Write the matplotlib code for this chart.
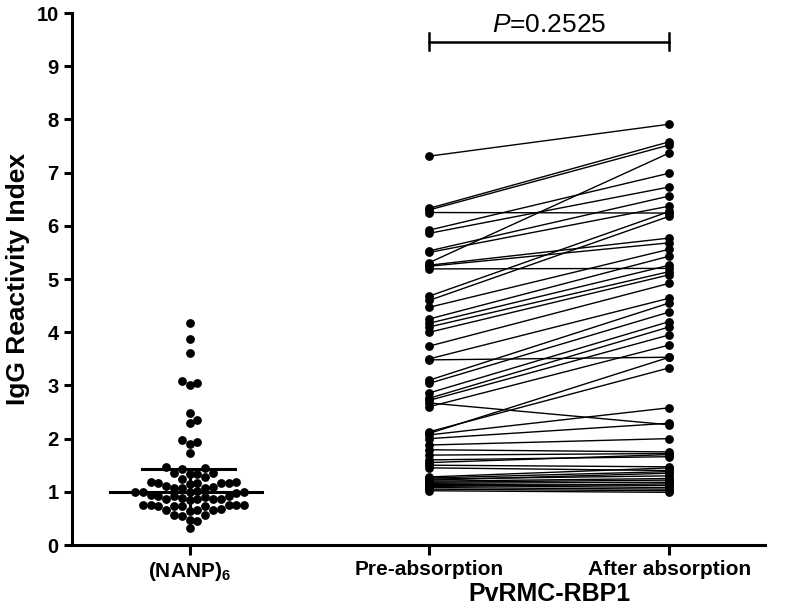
import numpy as np
import matplotlib.pyplot as plt

plt.rcParams['font.family'] = ['Liberation Sans', 'DejaVu Sans']
plt.rcParams['mathtext.fontset'] = 'custom'
plt.rcParams['mathtext.bf'] = 'Liberation Sans:bold'
plt.rcParams['mathtext.it'] = 'Liberation Sans:italic'
plt.rcParams['mathtext.rm'] = 'Liberation Sans'

# (NANP)6 reactivity index, one value per serum
nanp = [4.17, 3.87, 3.61, 3.09, 3.05, 3.01, 2.48, 2.35, 2.29, 1.97, 1.93, 1.90, 1.73,
        1.47, 1.45, 1.43, 1.36, 1.35, 1.34, 1.33, 1.27, 1.25,
        1.18, 1.18, 1.17, 1.17, 1.16, 1.16, 1.15,
        1.10, 1.09, 1.08, 1.08, 1.07,
        1.01, 1.00, 1.00, 1.00, 0.99, 0.98,
        0.94, 0.93, 0.93, 0.92, 0.91,
        0.88, 0.87, 0.87, 0.86, 0.86, 0.85,
        0.76, 0.76, 0.75, 0.75, 0.75, 0.74, 0.74, 0.74, 0.73,
        0.67, 0.66, 0.66, 0.65, 0.64,
        0.57, 0.56, 0.55, 0.47, 0.46, 0.32]
nanp_median = 1.0
nanp_q1, nanp_q3 = 0.74, 1.42

# PvRMC-RBP1 paired values
pre = [7.31, 6.33, 6.30, 6.25, 5.92, 5.86, 5.53, 5.50, 5.31, 5.26, 5.24, 5.19,
       4.68, 4.60, 4.47, 4.25, 4.17, 4.10, 4.00, 3.74, 3.50, 3.48, 3.10, 3.04,
       2.86, 2.76, 2.72, 2.67, 2.60, 2.13, 2.10, 2.07, 2.00, 1.88, 1.79, 1.69,
       1.60, 1.55, 1.50, 1.45,
       1.28, 1.26, 1.24, 1.22, 1.20, 1.18, 1.16, 1.14, 1.12, 1.10, 1.08, 1.05, 1.02]
after = [7.91, 7.58, 7.52, 6.24, 6.99, 6.73, 6.56, 6.37, 7.37, 5.77, 5.68, 5.20,
         6.27, 6.18, 5.56, 5.43, 5.26, 5.14, 5.08, 4.92, 4.64, 3.53, 4.55, 4.38,
         4.20, 4.10, 3.95, 2.26, 3.76, 3.33, 3.53, 2.58, 2.29, 2.00, 1.75, 1.72,
         1.66, 1.70, 1.47, 1.40,
         1.45, 1.38, 1.30, 1.35, 1.25, 1.22, 1.18, 1.12, 1.08, 1.15, 1.05, 1.02, 0.99]

categories = ['(NANP)$_\\mathbf{6}$', 'Pre-absorption', 'After absorption']
p_text = '$\\mathit{P}$=0.2525'

fig = plt.figure(figsize=(7.97, 6.11), dpi=100)
ax = fig.add_axes([0.0903, 0.108, 0.870, 0.8707])
ax.set_xlim(-0.49, 2.4)
ax.set_ylim(0, 10)

# simple beeswarm for the NANP column (pixel units)
px_x, px_y, diam = 240.0, 53.2, 7.8
placed = []
xs = []
for v in sorted(nanp):
    k = 0
    while True:
        off = 0.0 if k == 0 else (k + 1) // 2 * (1 if k % 2 else -1) * diam
        ok = all((off - px) ** 2 + ((v - py) * px_y) ** 2 >= diam ** 2 for px, py in placed)
        if ok:
            break
        k += 1
    placed.append((off, v))
    xs.append(off / px_x)
ax.scatter(xs, sorted(nanp), s=40, color='black', zorder=3, linewidths=0)

ax.plot([-0.33, 0.30], [nanp_median] * 2, color='black', lw=2.2, zorder=4)
ax.plot([-0.2, 0.19], [nanp_q3] * 2, color='black', lw=2.2, zorder=4)
ax.plot([0, 0], [nanp_q1, nanp_q3], color='black', lw=2.2, zorder=4)

for a, b in zip(pre, after):
    ax.plot([1, 2], [a, b], color='black', lw=1.0, zorder=2)
ax.scatter([1] * len(pre), pre, s=40, color='black', zorder=3, linewidths=0)
ax.scatter([2] * len(after), after, s=40, color='black', zorder=3, linewidths=0)

# significance bracket
ax.plot([1, 2], [9.45, 9.45], color='black', lw=1.8, clip_on=False)
ax.plot([1, 1], [9.3, 9.62], color='black', lw=1.8, clip_on=False)
ax.plot([2, 2], [9.3, 9.62], color='black', lw=1.8, clip_on=False)
ax.text(1.5, 9.64, p_text, ha='center', va='baseline', fontsize=19)

for s in ['top', 'right']:
    ax.spines[s].set_visible(False)
for s in ['left', 'bottom']:
    ax.spines[s].set_linewidth(2.2)
ax.set_yticks(range(11))
ax.set_xticks([0, 1, 2])
ax.set_xticklabels(categories, fontsize=15, fontweight='bold')
ax.tick_params(axis='y', labelsize=14.5, width=2.2, length=6)
ax.tick_params(axis='x', width=2.2, length=7, pad=4)
for t in ax.get_yticklabels():
    t.set_fontweight('bold')
ax.set_ylabel('IgG Reactivity Index', fontsize=19, fontweight='bold', va='center')
ax.yaxis.set_label_coords(-0.078, 0.5)
ax.text(1.5, -0.93, 'PvRMC-RBP1', ha='center', va='center', fontsize=18, fontweight='bold')

fig.savefig('out.png', dpi=100)
